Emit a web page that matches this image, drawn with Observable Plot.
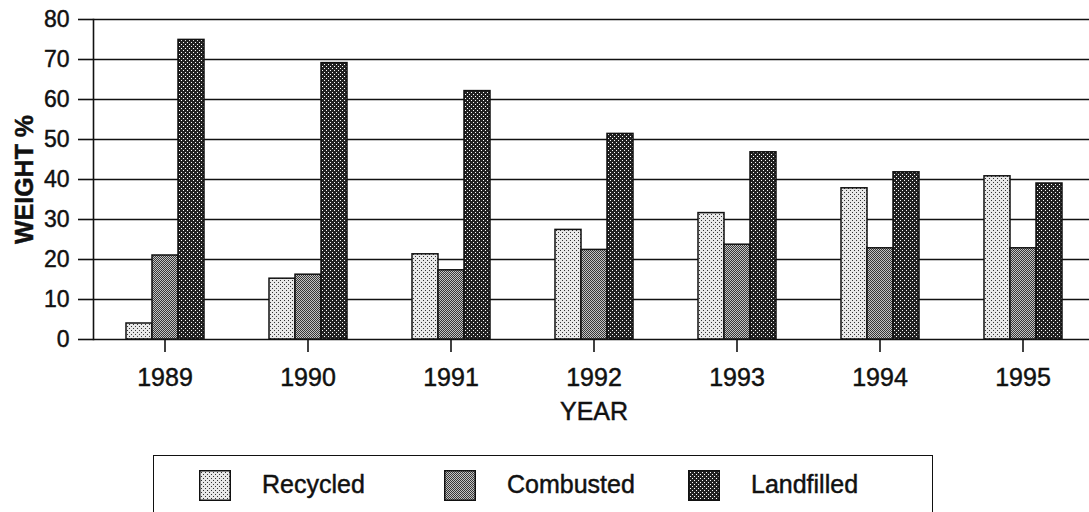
<!DOCTYPE html>
<html>
<head>
<meta charset="utf-8">
<script src="https://cdn.jsdelivr.net/npm/d3@7"></script>
<script src="https://cdn.jsdelivr.net/npm/@observablehq/plot@0.6"></script>
<style>
  html, body { margin: 0; padding: 0; background: #fff; overflow: hidden; }
  body { font-family: "Liberation Sans", Arial, sans-serif; color: #111; }
  #wrap { position: relative; width: 1089px; height: 512px; overflow: hidden; }
  #chart { position: absolute; left: 0; top: 0; }
  #chart text { stroke: #111; stroke-width: 0.45px; }
  #legend { position: absolute; left: 153px; top: 455px; width: 780px; height: 90px;
            border: 1.5px solid #111; box-sizing: border-box; background: #fff; }
  .sw { position: absolute; top: 14px; width: 32px; height: 31px; }
  .lab { position: absolute; top: 16px; font-size: 25px; line-height: 25px; white-space: nowrap;
         -webkit-text-stroke: 0.45px #111; }
</style>
</head>
<body>
<svg width="0" height="0" style="position:absolute">
  <defs>
    <pattern id="pRec" width="4" height="4" patternUnits="userSpaceOnUse" shape-rendering="crispEdges">
      <rect width="4" height="4" fill="#e8e8e8"/>
      <rect x="0" y="0" width="1" height="1" fill="#333"/>
      <rect x="2" y="2" width="1" height="1" fill="#333"/>
    </pattern>
    <pattern id="pCom" width="2" height="2" patternUnits="userSpaceOnUse" shape-rendering="crispEdges">
      <rect width="2" height="2" fill="#c4c4c4"/>
      <rect x="0" y="0" width="1" height="1" fill="#383838"/>
      <rect x="1" y="1" width="1" height="1" fill="#383838"/>
    </pattern>
    <pattern id="pLan" width="4" height="4" patternUnits="userSpaceOnUse" shape-rendering="crispEdges">
      <rect width="4" height="4" fill="#222"/>
      <rect x="0" y="0" width="1" height="1" fill="#fff"/>
      <rect x="2" y="2" width="1" height="1" fill="#fff"/>
    </pattern>
  </defs>
</svg>
<div id="wrap">
  <div id="chart"></div>
  <div id="legend"></div>
</div>
<script>
const years = ["1989", "1990", "1991", "1992", "1993", "1994", "1995"];
const seriesNames = ["Recycled", "Combusted", "Landfilled"];
const recycled   = [4, 15.2, 21.3, 27.4, 31.6, 37.8, 40.8];
const combusted  = [21, 16.2, 17.3, 22.4, 23.7, 22.8, 22.8];
const landfilled = [74.9, 69.1, 62.1, 51.4, 46.8, 41.8, 39];
const yTicks = [0, 10, 20, 30, 40, 50, 60, 70, 80];
const patternIds = ["pRec", "pCom", "pLan"];

const valuesBySeries = { Recycled: recycled, Combusted: combusted, Landfilled: landfilled };
const table = years.flatMap((year, i) =>
  seriesNames.map(s => ({ year, series: s, value: valuesBySeries[s][i] }))
);

const ink = "#111";
const chart = Plot.plot({
  width: 1089,
  height: 430,
  marginTop: 19,
  marginBottom: 91,
  marginLeft: 92,
  marginRight: -6,
  style: { fontFamily: "'Liberation Sans', Arial, sans-serif", color: ink, background: "#fff" },
  fx: { domain: years, paddingInner: 0, paddingOuter: 0 },
  x: { domain: seriesNames, paddingInner: 0, paddingOuter: 1.18, axis: null },
  y: { domain: [0, 80] },
  marks: [
    Plot.ruleY(yTicks, { stroke: ink, strokeWidth: 1.6 }),
    ...seriesNames.map((s, k) =>
      Plot.barY(table.filter(d => d.series === s), {
        fx: "year", x: "series", y: "value",
        fill: `url(#${patternIds[k]})`, stroke: ink, strokeWidth: 1.5
      })
    ),
    Plot.frame({ anchor: "left", facetAnchor: "left", stroke: ink, strokeWidth: 1.6 }),
    Plot.axisY({ ticks: yTicks, tickSize: 15, tickPadding: 9, fontSize: 23, strokeWidth: 1.6, label: null }),
    Plot.axisY({ ticks: [], tickSize: 0, label: "WEIGHT %", labelAnchor: "center", labelOffset: 78,
                 labelArrow: "none", fontSize: 25, fontWeight: "bold" }),
    Plot.axisFx({ anchor: "bottom", tickSize: 13, tickPadding: 16, fontSize: 25, strokeWidth: 1.6,
                  label: "YEAR", labelAnchor: "center", labelOffset: 80, labelArrow: "none" })
  ]
});
document.getElementById("chart").appendChild(chart);

// legend
const legend = document.getElementById("legend");
const swLeft = [45, 290, 534];
seriesNames.forEach((s, k) => {
  const sw = document.createElementNS("http://www.w3.org/2000/svg", "svg");
  sw.setAttribute("class", "sw");
  sw.setAttribute("width", 32);
  sw.setAttribute("height", 31);
  sw.style.left = swLeft[k] + "px";
  sw.innerHTML = `<rect x="0.75" y="0.75" width="30.5" height="29.5" fill="url(#${patternIds[k]})" stroke="${ink}" stroke-width="1.5"/>`;
  legend.appendChild(sw);
  const t = document.createElement("div");
  t.className = "lab";
  t.style.left = (swLeft[k] + 63) + "px";
  t.textContent = s;
  legend.appendChild(t);
});
</script>
</body>
</html>
